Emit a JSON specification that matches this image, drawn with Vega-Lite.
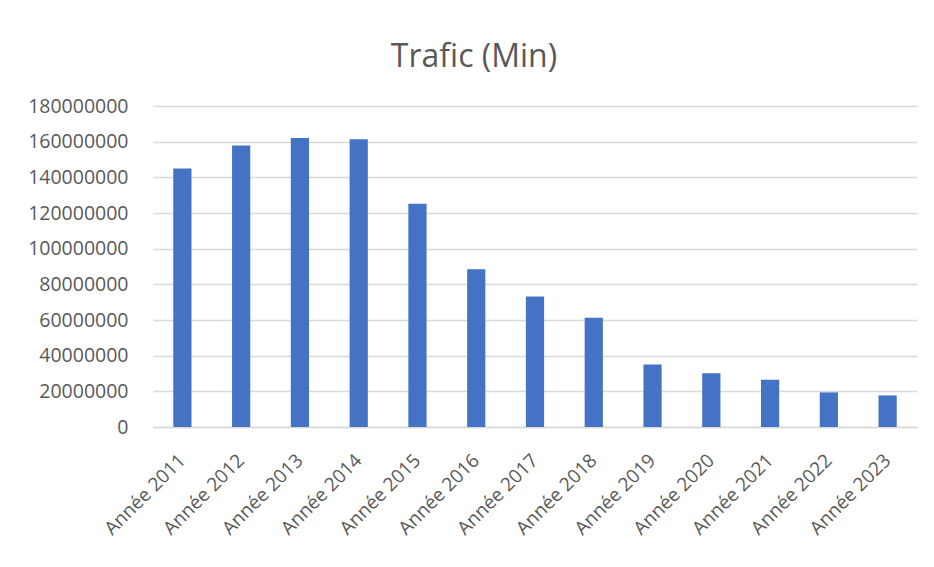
{
  "$schema": "https://vega.github.io/schema/vega-lite/v6.json",
  "autosize": "none",
  "width": 764,
  "height": 321,
  "padding": {"left": 153, "top": 106, "right": 17, "bottom": 140},
  "background": "#ffffff",
  "title": {
    "text": "Trafic (Min)",
    "font": "Open Sans",
    "fontSize": 32,
    "fontWeight": "normal",
    "color": "#595959",
    "anchor": "middle",
    "dx": -61,
    "offset": 22
  },
  "data": {
    "values": [
      {"annee": "Année 2011", "trafic": 145000000},
      {"annee": "Année  2012", "trafic": 157800000},
      {"annee": "Année 2013", "trafic": 162000000},
      {"annee": "Année 2014", "trafic": 161300000},
      {"annee": "Année 2015", "trafic": 125200000},
      {"annee": "Année 2016", "trafic": 88400000},
      {"annee": "Année 2017", "trafic": 73200000},
      {"annee": "Année 2018", "trafic": 61300000},
      {"annee": "Année 2019", "trafic": 35000000},
      {"annee": "Année 2020", "trafic": 30100000},
      {"annee": "Année 2021", "trafic": 26500000},
      {"annee": "Année 2022", "trafic": 19400000},
      {"annee": "Année 2023", "trafic": 17700000}
    ]
  },
  "mark": {"type": "bar", "color": "#4472C4"},
  "encoding": {
    "x": {
      "field": "annee",
      "type": "nominal",
      "sort": null,
      "title": null,
      "scale": {"paddingInner": 0.69, "paddingOuter": 0.345},
      "axis": {
        "labelAngle": -45,
        "labelAlign": "right",
        "labelBaseline": "middle",
        "labelPadding": 30,
        "labelFont": "Open Sans",
        "labelFontSize": 19,
        "labelColor": "#595959",
        "ticks": false,
        "domainColor": "#d9d9d9",
        "domainWidth": 1.5,
        "grid": false
      }
    },
    "y": {
      "field": "trafic",
      "type": "quantitative",
      "title": null,
      "scale": {"domain": [0, 180000000], "nice": false},
      "axis": {
        "values": [0, 20000000, 40000000, 60000000, 80000000, 100000000, 120000000, 140000000, 160000000, 180000000],
        "format": "d",
        "labelFont": "Open Sans",
        "labelFontSize": 19.5,
        "labelColor": "#595959",
        "labelPadding": 25,
        "ticks": false,
        "domain": false,
        "gridColor": "#d9d9d9",
        "gridWidth": 1.5
      }
    }
  },
  "config": {"view": {"stroke": null}}
}
